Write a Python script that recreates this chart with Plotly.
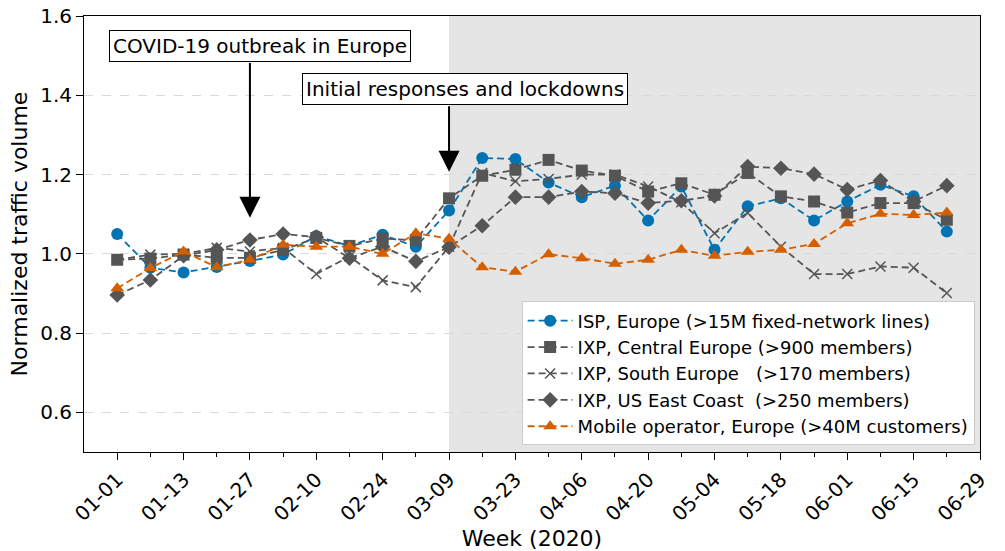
import plotly.graph_objects as go

# week index (0 = first week of 2020)
weeks = list(range(26))
tick_pos = list(range(0, 27, 2))
tick_labels = ['01-01', '01-13', '01-27', '02-10', '02-24', '03-09', '03-23',
               '04-06', '04-20', '05-04', '05-18', '06-01', '06-15', '06-29']

isp_europe = [1.050, 0.965, 0.953, 0.967, 0.982, 0.998, 1.045, 1.020, 1.048, 1.018,
              1.109, 1.242, 1.239, 1.180, 1.143, 1.172, 1.084, 1.170, 1.010, 1.120,
              1.140, 1.084, 1.132, 1.174, 1.145, 1.056]
ixp_central = [0.985, 0.988, 0.998, 0.990, 0.990, 1.010, 1.040, 1.020, 1.038, 1.035,
               1.140, 1.197, 1.212, 1.237, 1.210, 1.197, 1.157, 1.178, 1.149, 1.204,
               1.145, 1.132, 1.104, 1.128, 1.128, 1.086]
ixp_south = [0.985, 0.998, 1.000, 1.015, 1.006, 1.015, 0.949, 0.993, 0.933, 0.916,
             1.018, 1.204, 1.183, 1.189, 1.200, 1.200, 1.170, 1.130, 1.052, 1.103,
             1.018, 0.949, 0.949, 0.968, 0.965, 0.901]
ixp_us_east = [0.896, 0.934, 0.995, 1.010, 1.035, 1.050, 1.042, 0.989, 1.018, 0.981,
               1.017, 1.071, 1.143, 1.143, 1.157, 1.153, 1.128, 1.134, 1.146, 1.220,
               1.216, 1.201, 1.162, 1.185, 1.132, 1.172]
mobile_europe = [0.913, 0.964, 1.006, 0.966, 0.985, 1.023, 1.018, 1.018, 1.000, 1.052,
                 1.038, 0.966, 0.955, 0.999, 0.989, 0.975, 0.985, 1.010, 0.995, 1.005,
                 1.010, 1.025, 1.077, 1.101, 1.098, 1.104]

blue = '#0173B2'
gray = '#555555'
orange = '#D55E00'

series = [
    ('ISP, Europe (>15M fixed-network lines)', isp_europe, 'circle', blue),
    ('IXP, Central Europe (>900 members)', ixp_central, 'square', gray),
    ('IXP, South Europe   (>170 members)', ixp_south, 'x-thin', gray),
    ('IXP, US East Coast  (>250 members)', ixp_us_east, 'diamond', gray),
    ('Mobile operator, Europe (>40M customers)', mobile_europe, 'triangle-up', orange),
]

fig = go.Figure()
for name, vals, sym, col in series:
    fig.add_trace(go.Scatter(
        x=weeks, y=vals, name=name, mode='lines+markers',
        line=dict(color=col, width=1.8, dash='7px,4px'),
        marker=dict(symbol=sym, size=12 if sym != 'x-thin' else 10, color=col,
                    line=dict(color=col, width=1.5 if sym == 'x-thin' else 0))))

# lockdown period shading
fig.add_vrect(x0=10, x1=27, fillcolor='#E5E5E5', line_width=0, layer='below')

# arrows
fig.add_annotation(x=4, y=1.091, ax=4, ay=1.485, axref='x', ayref='y', text='',
                   showarrow=True, arrowhead=2, arrowsize=2.1, arrowwidth=2, arrowcolor='black')
fig.add_annotation(x=10, y=1.207, ax=10, ay=1.376, axref='x', ayref='y', text='',
                   showarrow=True, arrowhead=2, arrowsize=2.1, arrowwidth=2, arrowcolor='black')
# text boxes
fig.add_annotation(x=4.31, y=1.525, text='COVID-19 outbreak in Europe', showarrow=False,
                   bordercolor='black', borderwidth=1, borderpad=3, bgcolor='white',
                   font=dict(size=20, color='black'))
fig.add_annotation(x=10.48, y=1.417, text='Initial responses and lockdowns', showarrow=False,
                   bordercolor='black', borderwidth=1, borderpad=3, bgcolor='white',
                   font=dict(size=20, color='black'))

fig.update_layout(
    width=1005, height=551,
    margin=dict(l=84, r=25, t=16, b=99),
    plot_bgcolor='white', paper_bgcolor='white',
    font=dict(family='DejaVu Sans', size=18, color='black'),
    legend=dict(x=0.994, y=0.015, xanchor='right', yanchor='bottom',
                bgcolor='white', bordercolor='#CCCCCC', borderwidth=1,
                font=dict(size=18), tracegroupgap=0, itemwidth=45),
    xaxis=dict(range=[-1, 26], tickmode='array', tickvals=tick_pos, ticktext=tick_labels,
               tickangle=-45, ticks='outside', ticklen=7, tickcolor='black',
               tickfont=dict(size=20), automargin=False,
               showgrid=False, showline=True, linecolor='black', linewidth=1, mirror=True,
               zeroline=False, title=dict(text='Week (2020)', standoff=2),
               minor=dict(tickvals=list(range(1, 26, 2)), ticks='outside', ticklen=4,
                          tickcolor='black', showgrid=False)),
    yaxis=dict(range=[0.5, 1.6], tickvals=[0.6, 0.8, 1.0, 1.2, 1.4, 1.6],
               tickformat='.1f', ticks='outside', ticklen=7, tickcolor='black',
               tickfont=dict(size=20), automargin=False,
               showgrid=True, gridcolor='#D9D9D9', griddash='dash', gridwidth=1,
               showline=True, linecolor='black', linewidth=1, mirror=True,
               zeroline=False, title=dict(text='Normalized traffic volume', standoff=6)),
)

# drop the default page margin so the figure fills the window
fig.write_html('out.html', config={'displayModeBar': False},
               post_script="document.body.style.margin='0';")
